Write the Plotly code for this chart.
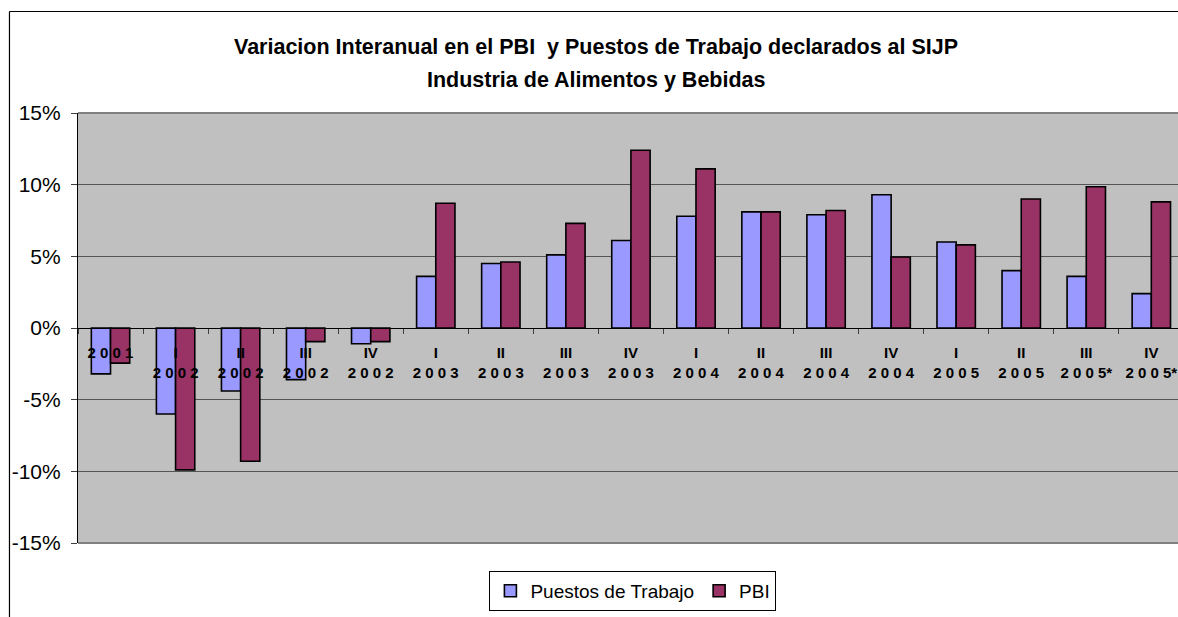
import plotly.graph_objects as go

# quarters (label shown under the zero line)
categories = [
    "2 0 0 1",
    "I<br>2 0 0 2", "II<br>2 0 0 2", "III<br>2 0 0 2", "IV<br>2 0 0 2",
    "I<br>2 0 0 3", "II<br>2 0 0 3", "III<br>2 0 0 3", "IV<br>2 0 0 3",
    "I<br>2 0 0 4", "II<br>2 0 0 4", "III<br>2 0 0 4", "IV<br>2 0 0 4",
    "I<br>2 0 0 5", "II<br>2 0 0 5", "III<br>2 0 0 5*", "IV<br>2 0 0 5*",
]

# year-on-year change, %
puestos = [-3.2, -6.0, -4.4, -3.6, -1.1, 3.6, 4.5, 5.1, 6.1, 7.8, 8.1, 7.9, 9.3, 6.0, 4.0, 3.6, 2.4]
pbi = [-2.45, -9.9, -9.3, -0.95, -0.95, 8.7, 4.6, 7.3, 12.4, 11.1, 8.1, 8.2, 4.95, 5.8, 9.0, 9.85, 8.8]

y_ticks = [-15, -10, -5, 0, 5, 10, 15]
y_tick_labels = ["-15%", "-10%", "-5%", "0%", "5%", "10%", "15%"]

title_lines = [
    "Variacion Interanual en el PBI  y Puestos de Trabajo declarados al SIJP",
    "Industria de Alimentos y Bebidas",
]

FONT = "Arial, Liberation Sans, sans-serif"

fig = go.Figure()
fig.add_trace(go.Bar(
    x=categories, y=puestos, name="Puestos de Trabajo",
    marker=dict(color="#9999FF", line=dict(color="black", width=1.6)),
))
fig.add_trace(go.Bar(
    x=categories, y=pbi, name="PBI",
    marker=dict(color="#993366", line=dict(color="black", width=1.6)),
))

fig.update_layout(
    width=1178, height=617,
    margin=dict(l=78, r=0, t=113, b=74),
    paper_bgcolor="white",
    plot_bgcolor="#C0C0C0",
    barmode="group",
    bargap=0.41,
    bargroupgap=0,
    font=dict(family=FONT, color="black"),
    showlegend=True,
    legend=dict(
        orientation="h",
        x=0.374, y=-0.065, xanchor="left", yanchor="top",
        bgcolor="white", bordercolor="black", borderwidth=1,
        font=dict(size=19, family=FONT),
        itemwidth=30,
    ),
)

fig.update_xaxes(
    type="category",
    range=[-0.5, 16.41],
    anchor="free", position=0.5,
    showline=True, linecolor="black", linewidth=1.2,
    ticks="outside", ticklen=5, tickcolor="#404040", tickson="boundaries",
    tickfont=dict(size=15, family=FONT, color="black", weight="bold"),
    ticklabelstandoff=11,
    showgrid=False, zeroline=False,
)

fig.update_yaxes(
    range=[-15, 15],
    tickvals=y_ticks, ticktext=y_tick_labels,
    tickfont=dict(size=21, family=FONT, color="black"),
    showline=True, linecolor="black", linewidth=1.2,
    ticks="outside", ticklen=6, tickcolor="#404040",
    ticklabelstandoff=6,
    showgrid=True, gridcolor="#555555", gridwidth=1.2,
    zeroline=False,
)

# plot-area top / bottom border
for yv in (0, 1):
    fig.add_shape(type="line", xref="paper", yref="paper",
                  x0=0, x1=1, y0=yv, y1=yv,
                  line=dict(color="#808080", width=2))

# outer chart frame (cut off at right and bottom)
fig.add_shape(type="line", xref="paper", yref="paper",
              x0=-0.0623, x1=-0.0623, y0=-0.2, y1=1.236,
              line=dict(color="black", width=1.2))
fig.add_shape(type="line", xref="paper", yref="paper",
              x0=-0.0623, x1=1.01, y0=1.236, y1=1.236,
              line=dict(color="black", width=1.2))

for txt, yy in zip(title_lines, [1.1535, 1.0767]):
    fig.add_annotation(
        text="<b>" + txt + "</b>", xref="paper", yref="paper",
        x=0.471, y=yy, xanchor="center", yanchor="middle",
        showarrow=False, font=dict(size=21.5, family=FONT, color="black"),
    )

# drop the default 8px body margin so the figure fills the window
fig.write_html(
    "out.html",
    config={"displayModeBar": False},
    post_script="document.body.style.margin='0';",
)
